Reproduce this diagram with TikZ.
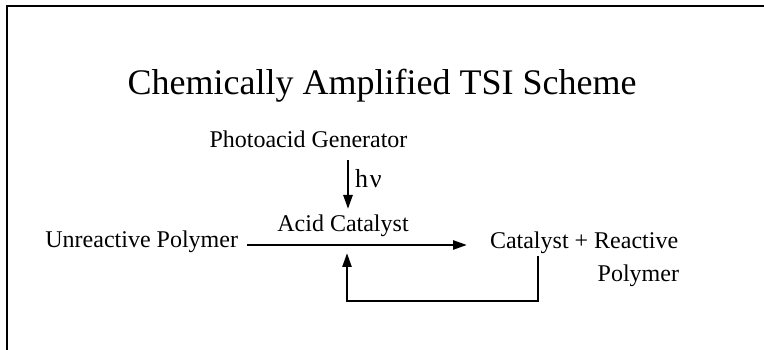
\documentclass[tikz,border=0pt]{standalone}
\usepackage{fontspec}
\setmainfont{Liberation Serif}
\usetikzlibrary{arrows.meta}
\begin{document}
\begin{tikzpicture}[x=1pt,y=1pt,
  lbl/.style={inner sep=0pt,outer sep=0pt,font=\fontsize{24}{28}\selectfont},
  conn/.style={line width=2.5pt,-{Triangle[length=14pt,width=9pt]}}]
\useasboundingbox (0,0) rectangle (764,350);
% frame
\draw[line width=2.2pt] (7,0) -- (7,344) -- (764,344);
% texts
\node[inner sep=0pt,anchor=base,font=\fontsize{36}{40}\selectfont] (title) at (382,255) {Chemically Amplified TSI Scheme};
\node[lbl,anchor=base] (pag) at (308.5,202) {Photoacid Generator};
\node[lbl,anchor=base] (ac) at (343,118) {Acid Catalyst};
\node[lbl,anchor=base east] (up) at (238,102) {Unreactive Polymer};
\node[lbl,anchor=base west] (cr) at (490,101) {Catalyst + Reactive};
\node[lbl,anchor=base east] (poly) at (679,68) {Polymer};
\node[lbl,anchor=base west,font=\fontsize{26}{28}\selectfont] (hv) at (355,162) {h\kern2pt ν};
% connectors
\draw[conn] ([shift={(39.5pt,-12pt)}]pag.base) -- ([shift={(5pt,23pt)}]ac.base);
\draw[conn] ([shift={(9pt,3pt)}]up.base east) -- ([shift={(-23pt,4pt)}]cr.base west);
\draw[conn] ([shift={(48pt,-7pt)}]cr.base west) -- ++(0,-45) -| ([shift={(4pt,-21pt)}]ac.base);
\end{tikzpicture}
\end{document}
